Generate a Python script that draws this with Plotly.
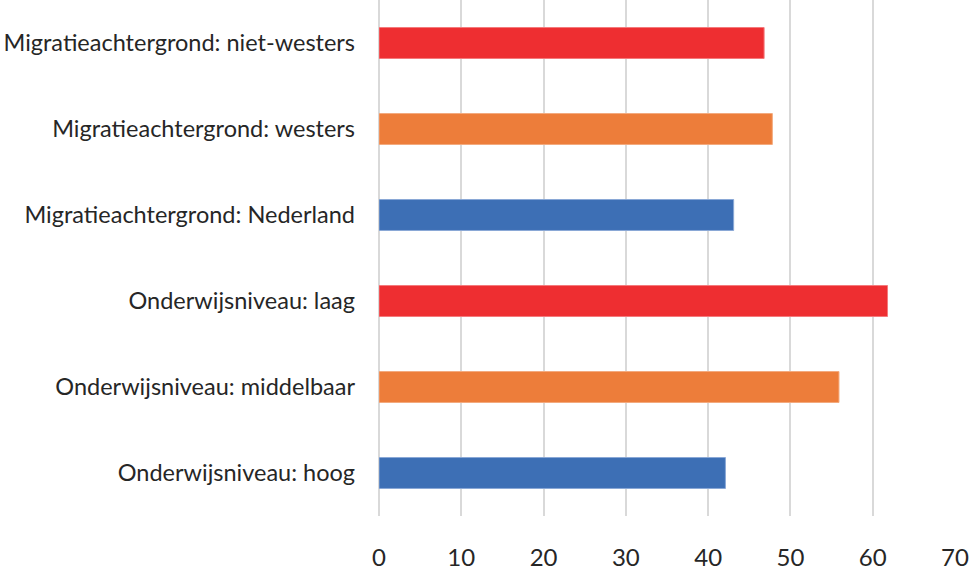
import plotly.graph_objects as go

categories = [
    "Migratieachtergrond: niet-westers",
    "Migratieachtergrond: westers",
    "Migratieachtergrond: Nederland",
    "Onderwijsniveau: laag",
    "Onderwijsniveau: middelbaar",
    "Onderwijsniveau: hoog",
]
values = [46.8, 47.8, 43.1, 61.8, 55.9, 42.1]
colors = ["#EE2E31", "#ED7D3A", "#3D6FB5", "#EE2E31", "#ED7D3A", "#3D6FB5"]
line_colors = ["#F47A7C", "#F3AA7E", "#8AA8D6", "#F47A7C", "#F3AA7E", "#8AA8D6"]
x_ticks = [0, 10, 20, 30, 40, 50, 60, 70]

fig = go.Figure(
    go.Bar(
        x=values,
        y=categories,
        orientation="h",
        marker=dict(color=colors, line=dict(color=line_colors, width=1)),
        width=0.36,
    )
)

font = dict(family="Lato, Carlito, Calibri, sans-serif", size=24, color="#262626")
yfont = dict(family="Lato, Carlito, Calibri, sans-serif", size=23.5, color="#262626")

fig.update_layout(
    width=969,
    height=573,
    margin=dict(l=379, r=14, t=0, b=57, autoexpand=False),
    plot_bgcolor="white",
    paper_bgcolor="white",
    showlegend=False,
    font=font,
    xaxis=dict(
        range=[0, 70],
        tickvals=x_ticks,
        showgrid=True,
        gridcolor="#D9D9D9",
        gridwidth=2,
        zeroline=True,
        zerolinecolor="#D9D9D9",
        zerolinewidth=2,
        showline=False,
        ticks="",
        ticklabelstandoff=25,
        tickfont=font,
        automargin=False,
        layer="below traces",
    ),
    yaxis=dict(
        autorange="reversed",
        showgrid=False,
        zeroline=False,
        showline=False,
        ticks="",
        ticklabelstandoff=23,
        tickfont=yfont,
        automargin=False,
    ),
)

fig.write_html(
    "out.html",
    config={"displayModeBar": False},
    post_script="document.body.style.margin='0';document.body.style.padding='0';",
)
